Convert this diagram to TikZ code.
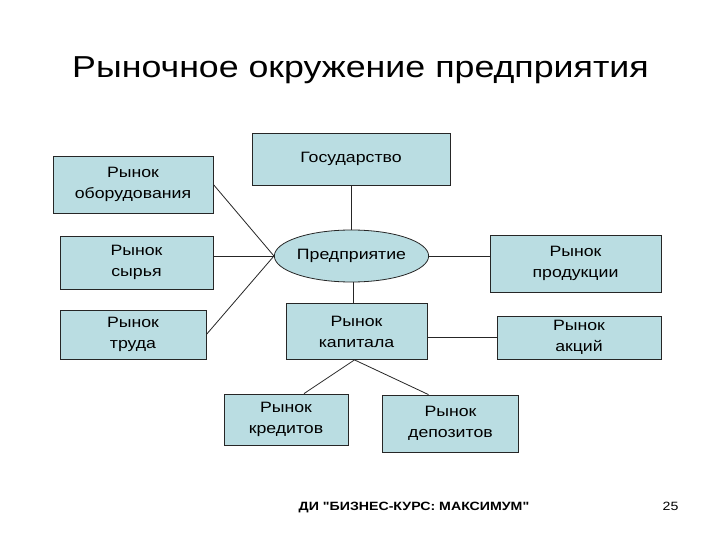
\documentclass[tikz,border=0pt]{standalone}
\usepackage{graphicx}
\usepackage{fontspec}
\setmainfont{Liberation Sans}
\newfontfamily\plainsans{Liberation Sans}
\usetikzlibrary{shapes.geometric}
\definecolor{boxfill}{HTML}{BADDE2}
\newcommand{\sx}[1]{\scalebox{1.18}[1]{#1}}
\tikzset{
  box/.style={draw=black!85, line width=0.8pt, fill=boxfill, align=center,
    font=\fontsize{15}{21}\selectfont, inner sep=0pt},
  conn/.style={draw=black!85, line width=0.8pt}
}
\begin{document}
\begin{tikzpicture}[x=1pt,y=1pt]
\useasboundingbox[fill=white] (0,0) rectangle (720,-540);
\node[font=\fontsize{30.3}{34}\selectfont, anchor=base] (title) at (360.5,-77.5) {\sx{Рыночное окружение предприятия}};

\node[box, minimum width=160pt, minimum height=57pt] (obor) at (133,-184.5) {\sx{Рынок}\\\sx{оборудования}};
\node[box, minimum width=153pt, minimum height=53pt] (syr) at (136.5,-262.5) {\sx{Рынок}\\\sx{сырья}};
\node[box, minimum width=146pt, minimum height=49pt] (trud) at (133,-334.5) {\sx{Рынок}\\\sx{труда}};
\node[box, minimum width=198pt, minimum height=52pt] (gos) at (351,-159) {\sx{Государство}};
\node[box, ellipse, minimum width=153pt, minimum height=52pt] (ent) at (351.5,-256) {\sx{Предприятие}};
\node[box, minimum width=141pt, minimum height=56pt] (kap) at (356.5,-331.5) {\sx{Рынок}\\\sx{капитала}};
\node[box, minimum width=171pt, minimum height=57pt] (prod) at (575.5,-263.5) {\sx{Рынок}\\\sx{продукции}};
\node[box, minimum width=164pt, minimum height=43pt] (akc) at (579,-337.5) {\sx{Рынок}\\\sx{акций}};
\node[box, minimum width=124pt, minimum height=51pt] (kred) at (286,-419.5) {\sx{Рынок}\\\sx{кредитов}};
\node[box, minimum width=136pt, minimum height=57pt] (dep) at (450.5,-423.5) {\sx{Рынок}\\\sx{депозитов}};

\draw[conn] (obor.east) -- (ent.west);
\draw[conn] (syr.east |- ent.west) -- (ent.west);
\draw[conn] (trud.east) -- (ent.west);
\draw[conn] (gos.south) -- (gos.south |- ent.north);
\draw[conn] ([xshift=1.5pt]ent.south) -- ([xshift=1.5pt]ent.south |- kap.north);
\draw[conn] (ent.east) -- (ent.east -| prod.west);
\draw[conn] (kap.east |- akc.west) -- (akc.west);
\draw[conn] ([xshift=-2pt]kap.south) -- ([xshift=18pt]kred.north);
\draw[conn] ([xshift=-2pt]kap.south) -- ([xshift=-22pt]dep.north);

\node[font=\plainsans\bfseries\fontsize{12}{14}\selectfont, anchor=base] (foot) at (414,-510) {\sx{ДИ "БИЗНЕС-КУРС: МАКСИМУМ"}};
\node[font=\fontsize{12}{14}\selectfont, anchor=base] (page) at (670.5,-510) {\sx{25}};
\end{tikzpicture}
\end{document}
